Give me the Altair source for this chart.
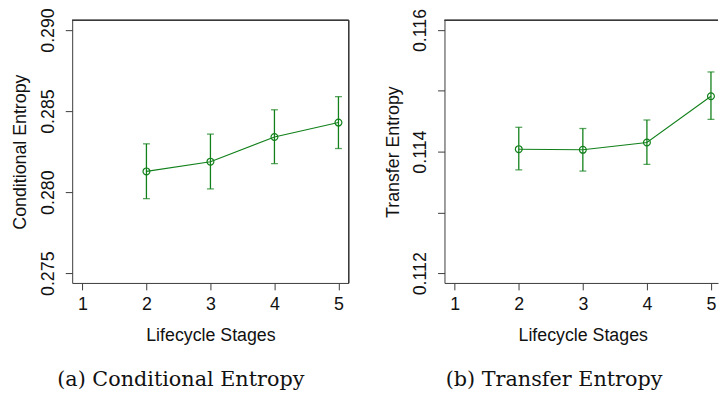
import altair as alt
import pandas as pd

# ---- data ----
stages = [2, 3, 4, 5]
x_ticks = [1, 2, 3, 4, 5]

ce_mean = [0.28128, 0.28188, 0.28340, 0.28429]
ce_lo = [0.27960, 0.28020, 0.28176, 0.28269]
ce_hi = [0.28298, 0.28358, 0.28508, 0.28589]
ce_ticks = [0.275, 0.280, 0.285, 0.290]
ce_domain = [0.2744, 0.2906]

te_mean = [0.11404, 0.11403, 0.11415, 0.11491]
te_lo = [0.11370, 0.11368, 0.11379, 0.11453]
te_hi = [0.11440, 0.11438, 0.11452, 0.11531]
te_ticks = [0.112, 0.113, 0.114, 0.115, 0.116]
te_labels = ["0.112", "0.114", "0.116"]
te_domain = [0.11184, 0.11616]

GREEN = "#11801a"
AXC = "#3a3a3a"
SANS = "Liberation Sans"
SERIF = "DejaVu Serif"
H = 266


def panel(mean, lo, hi, ydomain, yticks, ytitle, width, xdomain, caption, dx,
          label_expr=None, right_edge=True):
    df = pd.DataFrame({"stage": stages, "mean": mean, "lo": lo, "hi": hi})
    base = alt.Chart(df)
    yaxis_kw = dict(
        values=yticks, format=".3f", title=ytitle, grid=False,
        labelAngle=270, labelAlign="center", labelBaseline="alphabetic",
        labelPadding=12, tickSize=7, tickColor=AXC, domainColor=AXC,
        labelFont=SANS, labelFontSize=18, labelColor="#111",
        titleFont=SANS, titleFontSize=18, titleFontWeight="normal", titleColor="#111",
        titleAngle=270, titleAlign="center", titleBaseline="alphabetic",
        titleX=-47, titleY=H / 2, labelOverlap=False,
    )
    if label_expr is not None:
        yaxis_kw["labelExpr"] = label_expr
    x = alt.X("stage:Q", scale=alt.Scale(domain=xdomain, nice=False, zero=False),
              axis=alt.Axis(values=x_ticks, format="d", title="Lifecycle Stages", grid=False,
                            labelBaseline="alphabetic", labelPadding=20, tickSize=7,
                            tickColor=AXC, domainColor=AXC, labelFont=SANS, labelFontSize=18,
                            labelColor="#111", titleFont=SANS, titleFontSize=18,
                            titleFontWeight="normal", titleColor="#111",
                            titleBaseline="alphabetic", titleX=140, titleY=58,
                            labelOverlap=False, labelFlush=False))
    y = alt.Y("mean:Q", scale=alt.Scale(domain=ydomain, nice=False, zero=False),
              axis=alt.Axis(**yaxis_kw))
    line = base.mark_line(color=GREEN, strokeWidth=1.1).encode(x=x, y=y)
    pts = base.mark_point(shape="circle", filled=False, size=48, color=GREEN,
                          strokeWidth=1.2, opacity=1).encode(x="stage:Q", y="mean:Q")
    bars = base.mark_rule(color=GREEN, strokeWidth=1.3).encode(
        x="stage:Q", y="lo:Q", y2="hi:Q")
    cap_lo = base.mark_tick(color=GREEN, orient="horizontal", size=7, thickness=1.3).encode(
        x="stage:Q", y="lo:Q")
    cap_hi = base.mark_tick(color=GREEN, orient="horizontal", size=7, thickness=1.3).encode(
        x="stage:Q", y="hi:Q")
    top = alt.Chart(df).mark_rule(color=AXC, strokeWidth=1).encode(
        x=alt.value(0), x2=alt.value(width), y=alt.value(0))
    layers = [top, line, bars, cap_lo, cap_hi, pts]
    if right_edge:
        layers.insert(1, alt.Chart(df).mark_rule(color=AXC, strokeWidth=1).encode(
            x=alt.value(width), y=alt.value(0), y2=alt.value(H)))
    return alt.layer(*layers).properties(
        width=width, height=H,
        title=alt.TitleParams(text=caption, orient="bottom", anchor="middle", frame="group",
                              dx=dx, font=SERIF, fontSize=21, fontWeight="normal",
                              baseline="alphabetic", offset=42, color="#111"),
    )


left = panel(ce_mean, ce_lo, ce_hi, ce_domain, ce_ticks, "Conditional Entropy", 280,
             [0.84, 5.16], "(a) Conditional Entropy", -30)
right = panel(te_mean, te_lo, te_hi, te_domain, te_ticks, "Transfer Entropy", 277,
              [0.84, 5.11], "(b) Transfer Entropy", -27.5,
              label_expr="indexof(" + str(te_labels) + ", datum.label) >= 0 ? datum.label : ''",
              right_edge=False)

chart = alt.hconcat(left, right, spacing=97, bounds="flush").configure_view(
    strokeWidth=0
).properties(padding={"left": 4, "top": -3, "right": 0, "bottom": 0}, background="white")

chart.save("out.html", embed_options={"renderer": "svg", "actions": False})
